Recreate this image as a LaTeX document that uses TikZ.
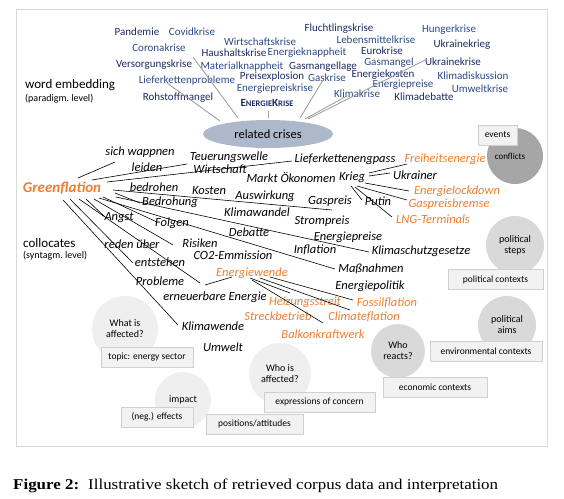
\documentclass[tikz,border=0pt]{standalone}
\usepackage{fontspec}
\usetikzlibrary{shapes.geometric}
\setmainfont{Carlito}
\newfontfamily\capfont[FakeStretch=1.13]{Liberation Serif}
\definecolor{wcdark}{HTML}{1B2A62}
\definecolor{wclight}{HTML}{2C4A88}
\definecolor{orangeC}{HTML}{ED7D31}
\definecolor{framegray}{HTML}{D9D9D9}
\definecolor{boxfill}{HTML}{F2F2F2}
\definecolor{boxline}{HTML}{D0D0D0}
\definecolor{ellfill}{HTML}{ADB9CA}
\definecolor{lightbub}{HTML}{EFEFEF}
\definecolor{midbub}{HTML}{D9D9D9}
\definecolor{darkbub}{HTML}{A6A6A6}
\definecolor{wcline}{HTML}{A0A0A0}
\begin{document}
\begin{tikzpicture}[x=1pt,y=-1pt,
  wc/.style={font=\fontsize{11}{13}\selectfont, text=wcdark, inner sep=0pt},
  wcl/.style={wc, text=wclight},
  col/.style={font=\fontsize{12.5}{14}\selectfont\itshape, inner sep=0pt},
  ora/.style={col, text=orangeC},
  lbl/.style={font=\fontsize{13}{15}\selectfont, inner sep=0pt, anchor=west},
  sublbl/.style={font=\fontsize{10}{12}\selectfont, inner sep=0pt, anchor=west},
  bub/.style={circle, draw=none, inner sep=0pt, align=center, font=\fontsize{10}{12}\selectfont},
  lbox/.style={rectangle, fill=boxfill, draw=boxline, line width=0.7pt, inner sep=0pt,
     minimum height=20pt, font=\fontsize{9.5}{11}\selectfont},
  wcedge/.style={draw=wcline, line width=0.9pt},
  cedge/.style={draw=black, line width=0.6pt}]
\useasboundingbox (0,0) rectangle (564,498);
\draw[framegray, line width=1pt] (16,9) rectangle (547,446);

% ---------- bubbles (background) ----------
\node[bub, fill=darkbub, minimum size=56pt] (bconf) at (515,156) {};
\node[bub, fill=midbub, minimum size=58pt] (bsteps) at (515,245) {political\\[-1pt]steps};
\node[bub, fill=midbub, minimum size=58pt] (baims) at (507,325) {political\\[-1pt]aims};
\node[bub, fill=midbub, minimum size=54pt] (breact) at (398,351) {Who\\[-1pt]reacts?};
\node[bub, fill=lightbub, minimum size=62pt] (bwhoaff) at (280,374) {Who is\\[-1pt]affected?};
\node[bub, fill=lightbub, minimum size=56pt] (bimpact) at (183,400) {impact};
\node[bub, fill=lightbub, minimum size=66pt] (bwhat) at (125,329) {What is\\[-1pt]affected?};
\node[font=\fontsize{9}{11}\selectfont, inner sep=0pt] (tconf) at (510,156) {conflicts};

% ---------- label boxes ----------
\node[lbox, minimum width=39pt] (events) at (497.5,135) {events};
\node[lbox, minimum width=95pt] (polctx) at (495.5,279.5) {political contexts};
\node[lbox, minimum width=112pt] (envctx) at (486,351) {environmental contexts};
\node[lbox, minimum width=104pt] (ecoctx) at (435,387) {economic contexts};
\node[lbox, minimum width=111pt] (exprc) at (319.5,402) {expressions of concern};
\node[lbox, minimum width=97pt] (posatt) at (254.5,424) {positions/attitudes};
\node[lbox, minimum width=72pt] (negeff) at (157,417) {(neg.) effects};
\node[lbox, minimum width=92pt] (topic) at (147,357) {topic: energy sector};

% ---------- word embedding ----------
\node[lbl] (wordemb) at (25,85) {word embedding};
\node[sublbl] (paradigm) at (25,99) {(paradigm.\ level)};
\node[draw=none, fill=ellfill, ellipse, minimum width=130pt, minimum height=28pt, inner sep=0pt,
  font=\fontsize{12.5}{14}\selectfont] (rc) at (268,134) {related crises};

\node[wc]  (pandemie) at (137,32) {Pandemie};
\node[wcl] (covid) at (192,32) {Covidkrise};
\node[wcl] (corona) at (159,48) {Coronakrise};
\node[wc]  (versorg) at (154,65) {Versorgungskrise};
\node[wcl] (liefp) at (187,81) {Lieferkettenprobleme};
\node[wc]  (rohstoff) at (178,98) {Rohstoffmangel};
\node[wcl] (wirtk) at (260,42) {Wirtschaftskrise};
\node[wc]  (haush) at (234,53) {Haushaltskrise};
\node[wcl] (materi) at (242,67) {Materialknappheit};
\node[wc]  (preisex) at (272,77) {Preisexplosion};
\node[wcl] (epkrise) at (275,89) {Energiepreiskrise};
\node[wc]  (ekrise) at (267,103) {\bfseries E\fontsize{8.5}{10}\selectfont NERGIE\fontsize{11}{13}\selectfont K\fontsize{8.5}{10}\selectfont RISE};
\node[wcl] (eknapp) at (307,53) {Energieknappheit};
\node[wc]  (gasml) at (323,67) {Gasmangellage};
\node[wcl] (gask) at (327,78) {Gaskrise};
\node[wc]  (fluecht) at (339,29) {Fluchtlingskrise};
\node[wcl] (lebensm) at (376,40) {Lebensmittelkrise};
\node[wc]  (euro) at (382,51) {Eurokrise};
\node[wcl] (gasm) at (389,62.5) {Gasmangel};
\node[wc]  (ekosten) at (383,75) {Energiekosten};
\node[wcl] (epreise) at (403,85) {Energiepreise};
\node[wcl] (klimak) at (357,94) {Klimakrise};
\node[wc]  (klimad) at (424,97) {Klimadebatte};
\node[wcl] (hunger) at (449,30) {Hungerkrise};
\node[wc]  (ukrkrieg) at (462,45) {Ukrainekrieg};
\node[wc]  (ukrkrise) at (453,62) {Ukrainekrise};
\node[wcl] (klimadis) at (473,76) {Klimadiskussion};
\node[wcl] (umweltk) at (480,89) {Umweltkrise};

\draw[wcedge] ([shift={(-30,-16)}]rc.center) -- ([shift={(34,9)}]corona.center);
\draw[wcedge] ([shift={(-48,-13)}]rc.center) -- ([shift={(-20,2)}]liefp.center);
\draw[wcedge] ([shift={(0,-16)}]rc.center) -- ([shift={(1,8)}]ekrise.center);
\draw[wcedge] ([shift={(32,-16)}]rc.center) -- ([shift={(-4,2)}]gask.center);
\draw[wcedge] ([shift={(37,-15)}]rc.center) -- ([shift={(-12,3)}]klimak.center);
\draw[wcedge] ([shift={(40,-15)}]rc.center) -- ([shift={(-26,-3)}]ukrkrise.center);

% ---------- collocates ----------
\node[lbl] (colloc) at (23,243) {collocates};
\node[sublbl] (syntagm) at (23,256) {(syntagm.\ level)};
\node[font=\fontsize{15}{17}\selectfont\bfseries\itshape, text=orangeC, inner sep=0pt] (gf) at (62,188) {Greenflation};

\node[col] (wappnen) at (140,152) {sich wappnen};
\node[col] (leiden) at (147,167) {leiden};
\node[col] (teuer) at (229,157) {Teuerungswelle};
\node[col] (wirtsch) at (220,169) {Wirtschaft};
\node[col] (markt) at (291,178) {Markt Ökonomen};
\node[col] (liefeng) at (345,159) {Lieferkettenengpass};
\node[ora] (freiheit) at (445,159) {Freiheitsenergie};
\node[col] (krieg) at (352,177) {Krieg};
\node[col] (ukrainer) at (415,175) {Ukrainer};
\node[ora] (elock) at (457,191) {Energielockdown};
\node[ora] (gpb) at (449,204) {Gaspreisbremse};
\node[ora] (lng) at (433,219) {LNG-Terminals};
\node[col] (putin) at (378,201) {Putin};
\node[col] (gaspreis) at (330,201) {Gaspreis};
\node[col] (strom) at (322,221) {Strompreis};
\node[col] (bedrohen) at (154,187) {bedrohen};
\node[col] (kosten) at (209,191) {Kosten};
\node[col] (ausw) at (265,196) {Auswirkung};
\node[col] (bedrohung) at (170,202) {Bedrohung};
\node[col] (klimaw) at (257,212) {Klimawandel};
\node[col] (angst) at (119,218) {Angst};
\node[col] (folgen) at (172,223) {Folgen};
\node[col] (debatte) at (249,232) {Debatte};
\node[col] (epreisecol) at (348,237) {Energiepreise};
\node[col] (kschutz) at (421,251) {Klimaschutzgesetze};
\node[col] (inflation) at (315,250) {Inflation};
\node[col] (reden) at (132,244) {reden über};
\node[col] (risiken) at (200,243) {Risiken};
\node[col] (co2) at (233,255) {CO2-Emmission};
\node[col] (entst) at (160,262) {entstehen};
\node[col] (massn) at (371,269) {Maßnahmen};
\node[ora] (ew) at (252,273) {Energiewende};
\node[col] (epol) at (370,286) {Energiepolitik};
\node[col] (probleme) at (160,281) {Probleme};
\node[col] (erneu) at (215,297) {erneuerbare Energie};
\node[ora] (heiz) at (305,302) {Heizungsstreit};
\node[ora] (fossil) at (387,303) {Fossilflation};
\node[ora] (streck) at (278,316) {Streckbetrieb};
\node[ora] (climf) at (364,317) {Climateflation};
\node[col] (klimawende) at (213,326) {Klimawende};
\node[ora] (balkon) at (323,334) {Balkonkraftwerk};
\node[col] (umwelt) at (223,347) {Umwelt};

% edges from Greenflation
\draw[cedge] ([shift={(16,-10)}]gf.center) -- ([shift={(-25,10)}]wappnen.center);
\draw[cedge] ([shift={(30,-8)}]gf.center) -- ([shift={(-42,7)}]teuer.center);
\draw[cedge] ([shift={(45,-6)}]gf.center) -- ([shift={(-53,2)}]liefeng.center);
\draw[cedge] ([shift={(51,2)}]gf.center) -- ([shift={(2,9)}]gaspreis.center);
\draw[cedge] ([shift={(53,5)}]gf.center) -- ([shift={(-30,1)}]bedrohung.center);
\draw[cedge] ([shift={(41,9)}]gf.center) -- ([shift={(-15,-1)}]folgen.center);
\draw[cedge] ([shift={(37,10)}]gf.center) -- ([shift={(-36,0)}]massn.center);
\draw[cedge] ([shift={(54,9)}]gf.center) -- ([shift={(-52,1)}]kschutz.center);
\draw[cedge] ([shift={(32,11)}]gf.center) -- ([shift={(-27,2)}]risiken.center);
\draw[cedge] ([shift={(24,11)}]gf.center) -- ([shift={(-14,-1)}]angst.center);
\draw[cedge] ([shift={(8,11)}]gf.center) -- ([shift={(-27,1)}]entst.center);
\draw[cedge] ([shift={(17,11)}]gf.center) -- ([shift={(-52,10)}]ew.center);
\draw[cedge] ([shift={(-47,12)}]ew.center) -- ([shift={(-20,4)}]ew.center);
\draw[cedge] ([shift={(1,12)}]gf.center) -- ([shift={(-35,-1)}]klimawende.center);

% edges from Krieg
\draw[cedge] ([shift={(17,-4)}]krieg.center) -- ([shift={(-38,5)}]freiheit.center);
\draw[cedge] ([shift={(17,-1)}]krieg.center) -- ([shift={(-25,-2)}]ukrainer.center);
\draw[cedge] ([shift={(13,6)}]krieg.center) -- ([shift={(-48,0)}]elock.center);
\draw[cedge] ([shift={(5,9)}]krieg.center) -- ([shift={(-42,-4)}]gpb.center);
\draw[cedge] ([shift={(3,10)}]krieg.center) -- ([shift={(-41,-2)}]lng.center);
\draw[cedge] ([shift={(-1,9)}]krieg.center) -- ([shift={(-16,-1)}]putin.center);

% edges from Energiewende
\draw[cedge] ([shift={(-2,5)}]ew.center) -- ([shift={(-15,-9)}]heiz.center);
\draw[cedge] ([shift={(0,7)}]ew.center) -- ([shift={(0,-11)}]balkon.center);
\draw[cedge] ([shift={(8,5)}]ew.center) -- ([shift={(-14,-7)}]climf.center);
\draw[cedge] ([shift={(18,4)}]ew.center) -- ([shift={(-34,-3)}]fossil.center);

% ---------- caption ----------
\node[inner sep=0pt, anchor=west, font=\capfont\fontsize{15}{17}\selectfont\bfseries] (figlbl) at (13,486) {Figure 2:};
\node[inner sep=0pt, anchor=west, font=\capfont\fontsize{15}{17}\selectfont] (captxt) at (88,486) {Illustrative sketch of retrieved corpus data and interpretation};
\end{tikzpicture}
\end{document}
